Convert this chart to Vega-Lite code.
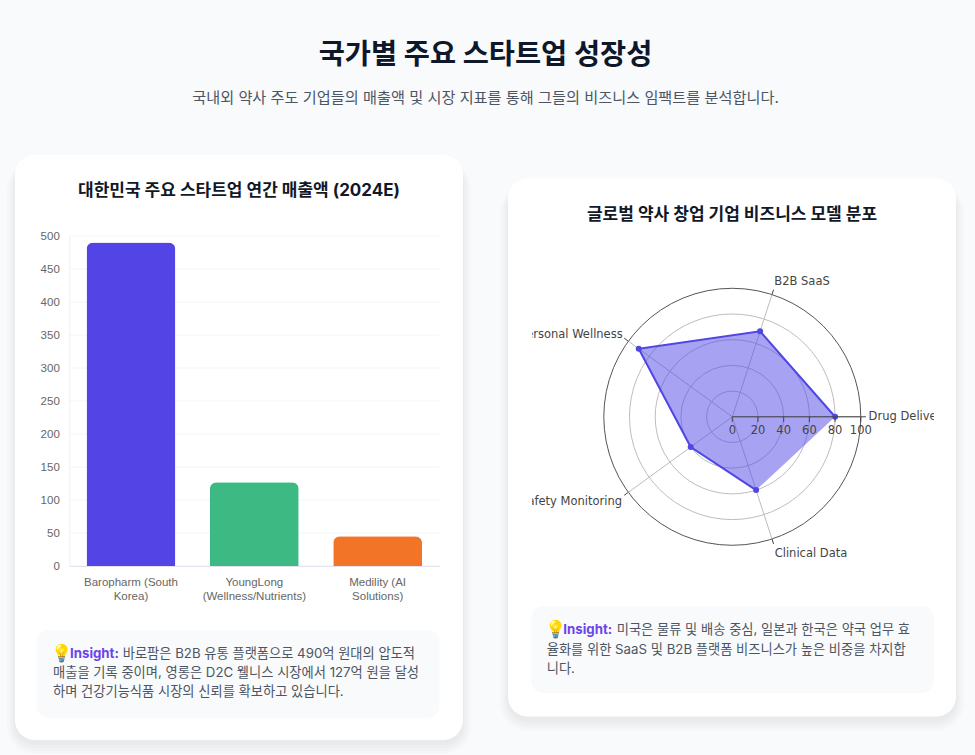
{
  "$schema": "https://vega.github.io/schema/vega-lite/v6.json",
  "background": "#f8fafc",
  "padding": {"left": 7, "top": 41, "right": 19, "bottom": 15},
  "title": {
    "text": "국가별 주요 스타트업 성장성",
    "subtitle": "국내외 약사 주도 기업들의 매출액 및 시장 지표를 통해 그들의 비즈니스 임팩트를 분석합니다.",
    "anchor": "middle",
    "frame": "group",
    "dx": 470.5,
    "font": "Inter, 'Noto Sans CJK KR'",
    "fontSize": 28.4,
    "fontWeight": 700,
    "color": "#0f172a",
    "subtitleFont": "Inter, 'Noto Sans CJK KR'",
    "subtitleFontSize": 15.2,
    "subtitleColor": "#4b5563",
    "subtitlePadding": 20,
    "offset": 48
  },
  "datasets": {
    "one": [{"part": "card"}],
    "revenue": [
      {"company": "Baropharm (South Korea)", "revenue": 490},
      {"company": "YoungLong (Wellness/Nutrients)", "revenue": 127},
      {"company": "Medility (AI Solutions)", "revenue": 45}
    ],
    "revenueTicks": [
      {"tick": 0}, {"tick": 50}, {"tick": 100}, {"tick": 150}, {"tick": 200}, {"tick": 250},
      {"tick": 300}, {"tick": 350}, {"tick": 400}, {"tick": 450}, {"tick": 500}
    ],
    "insightLeft": [
      {"line": 1, "col": 0, "text": "💡", "kind": "icon"},
      {"line": 1, "col": 1, "text": "Insight:", "kind": "head"},
      {"line": 1, "col": 2, "text": "바로팜은 B2B 유통 플랫폼으로 490억 원대의 압도적", "kind": "body"},
      {"line": 2, "col": 0, "text": "매출을 기록 중이며, 영롱은 D2C 웰니스 시장에서 127억 원을 달성", "kind": "body"},
      {"line": 3, "col": 0, "text": "하며 건강기능식품 시장의 신뢰를 확보하고 있습니다.", "kind": "body"}
    ],
    "insightRight": [
      {"line": 1, "col": 0, "text": "💡", "kind": "icon"},
      {"line": 1, "col": 1, "text": "Insight:", "kind": "head"},
      {"line": 1, "col": 2, "text": "미국은 물류 및 배송 중심, 일본과 한국은 약국 업무 효", "kind": "body"},
      {"line": 2, "col": 0, "text": "율화를 위한 SaaS 및 B2B 플랫폼 비즈니스가 높은 비중을 차지합", "kind": "body"},
      {"line": 3, "col": 0, "text": "니다.", "kind": "body"}
    ],
    "rings": [{"r": 20}, {"r": 40}, {"r": 60}, {"r": 80}, {"r": 100}],
    "radar": [
      {"order": 1, "model": "Drug Delivery", "value": 80, "px": 80, "py": 0},
      {"order": 2, "model": "B2B SaaS", "value": 70, "px": 21.63, "py": 66.57},
      {"order": 3, "model": "Personal Wellness", "value": 90, "px": -72.81, "py": 52.9},
      {"order": 4, "model": "Safety Monitoring", "value": 40, "px": -32.36, "py": -23.51},
      {"order": 5, "model": "Clinical Data", "value": 60, "px": 18.54, "py": -57.06}
    ],
    "spokes": [
      {"model": "Drug Delivery", "ex": 100, "ey": 0, "ox": 104, "oy": 0, "lx": 106.1, "ly": 0.2},
      {"model": "B2B SaaS", "ex": 30.9, "ey": 95.1, "ox": 32.1, "oy": 98.9, "lx": 32.7, "ly": 104.5},
      {"model": "Personal Wellness", "ex": -80.9, "ey": 58.8, "ox": -84.1, "oy": 61.1, "lx": -85.3, "ly": 63.5},
      {"model": "Safety Monitoring", "ex": -80.9, "ey": -58.8, "ox": -84.1, "oy": -61.1, "lx": -85.8, "ly": -66.5},
      {"model": "Clinical Data", "ex": 30.9, "ey": -95.1, "ox": 32.1, "oy": -98.9, "lx": 33, "ly": -106.6}
    ],
    "radial": [{"tick": 0}, {"tick": 20}, {"tick": 40}, {"tick": 60}, {"tick": 80}, {"tick": 100}]
  },
  "center": true,
  "bounds": "flush",
  "spacing": 45,
  "hconcat": [
    {
      "width": 448,
      "height": 585,
      "title": {"text": "대한민국 주요 스타트업 연간 매출액 (2024E)", "anchor": "middle", "frame": "group", "font": "Inter, 'Noto Sans CJK KR'", "fontSize": 17, "fontWeight": 700, "color": "#111827", "offset": -45, "zindex": 1},
      "layer": [
        {"data": {"name": "one"}, "mark": {"type": "rect", "color": "#000000", "opacity": 0.015, "cornerRadius": 28},
         "encoding": {
           "x": {"datum": 0, "type": "quantitative", "axis": null, "scale": {"domain": [0, 1], "range": [-8, 456]}}, "x2": {"datum": 1},
           "y": {"datum": 0, "type": "quantitative", "axis": null, "scale": {"domain": [0, 1], "range": [6, 599]}}, "y2": {"datum": 1}}},
        {"data": {"name": "one"}, "mark": {"type": "rect", "color": "#000000", "opacity": 0.015, "cornerRadius": 25},
         "encoding": {
           "x": {"datum": 0, "type": "quantitative", "axis": null, "scale": {"domain": [0, 1], "range": [-5, 453]}}, "x2": {"datum": 1},
           "y": {"datum": 0, "type": "quantitative", "axis": null, "scale": {"domain": [0, 1], "range": [7, 596]}}, "y2": {"datum": 1}}},
        {"data": {"name": "one"}, "mark": {"type": "rect", "color": "#000000", "opacity": 0.015, "cornerRadius": 23},
         "encoding": {
           "x": {"datum": 0, "type": "quantitative", "axis": null, "scale": {"domain": [0, 1], "range": [-3, 451]}}, "x2": {"datum": 1},
           "y": {"datum": 0, "type": "quantitative", "axis": null, "scale": {"domain": [0, 1], "range": [8, 593]}}, "y2": {"datum": 1}}},
        {"data": {"name": "one"}, "mark": {"type": "rect", "color": "#000000", "opacity": 0.015, "cornerRadius": 21},
         "encoding": {
           "x": {"datum": 0, "type": "quantitative", "axis": null, "scale": {"domain": [0, 1], "range": [-1, 449]}}, "x2": {"datum": 1},
           "y": {"datum": 0, "type": "quantitative", "axis": null, "scale": {"domain": [0, 1], "range": [9, 590]}}, "y2": {"datum": 1}}},
        {"data": {"name": "one"}, "mark": {"type": "rect", "color": "#ffffff", "cornerRadius": 20},
         "encoding": {
           "x": {"datum": 0, "type": "quantitative", "axis": null, "scale": {"domain": [0, 1], "range": [0, 448]}}, "x2": {"datum": 1},
           "y": {"datum": 0, "type": "quantitative", "axis": null, "scale": {"domain": [0, 1], "range": [0, 585]}}, "y2": {"datum": 1}}},
        {"data": {"name": "revenueTicks"}, "mark": {"type": "rule", "color": "#f3f4f6", "strokeWidth": 1},
         "encoding": {
           "x": {"datum": 0, "type": "quantitative", "axis": null, "scale": {"domain": [0, 1], "range": [54.3, 424.3]}}, "x2": {"datum": 1},
           "y": {"field": "tick", "type": "quantitative", "axis": null, "scale": {"domain": [0, 500], "range": [411, 81]}}}},
        {"data": {"name": "revenue"}, "mark": {"type": "bar", "cornerRadiusTopLeft": 7, "cornerRadiusTopRight": 7},
         "encoding": {
           "x": {"field": "company", "type": "nominal", "sort": null, "title": null,
             "scale": {"range": [54.3, 424.3], "paddingInner": 0.28, "paddingOuter": 0.14},
             "axis": {"orient": "bottom", "offset": -174, "zindex": 1, "labelAngle": 0, "tickSize": 0, "labelPadding": 10, "domainColor": "#e3e1f0", "grid": false,
               "labelColor": "#666666", "labelFont": "Liberation Sans", "labelFontSize": 11.5, "labelLineHeight": 14,
               "labelExpr": "{'Baropharm (South Korea)': ['Baropharm (South', 'Korea)'], 'YoungLong (Wellness/Nutrients)': ['YoungLong', '(Wellness/Nutrients)'], 'Medility (AI Solutions)': ['Medility (AI', 'Solutions)']}[datum.value]"}},
           "y": {"field": "revenue", "type": "quantitative", "title": null,
             "scale": {"domain": [0, 500], "range": [411, 81]},
             "axis": {"orient": "left", "offset": -54.3, "zindex": 1, "values": [0, 50, 100, 150, 200, 250, 300, 350, 400, 450, 500], "tickSize": 0, "labelPadding": 10, "grid": false, "domainColor": "#f0f0f3",
               "labelColor": "#666666", "labelFont": "Liberation Sans", "labelFontSize": 11.5}},
           "color": {"field": "company", "type": "nominal", "sort": null, "legend": null, "scale": {"range": ["#5345e5", "#3db983", "#f27527"]}}}},
        {"data": {"name": "one"}, "mark": {"type": "rect", "color": "#f9fafb", "cornerRadius": 12},
         "encoding": {
           "x": {"datum": 0, "type": "quantitative", "axis": null, "scale": {"domain": [0, 1], "range": [22, 424.5]}}, "x2": {"datum": 1},
           "y": {"datum": 0, "type": "quantitative", "axis": null, "scale": {"domain": [0, 1], "range": [475, 563]}}, "y2": {"datum": 1}}},
        {"data": {"name": "insightLeft"}, "transform": [{"filter": "datum.kind == 'icon'"}], "mark": {"type": "text", "align": "left", "baseline": "middle", "font": "Inter, 'Noto Sans CJK KR'", "fontSize": 17, "color": "#4b5563"},
         "encoding": {
           "x": {"field": "col", "type": "quantitative", "axis": null, "scale": {"domain": [0, 1, 2], "range": [36, 55, 107.7]}},
           "y": {"field": "line", "type": "quantitative", "axis": null, "scale": {"domain": [1, 3], "range": [499, 537]}},
           "text": {"field": "text", "type": "nominal"}}},
        {"data": {"name": "insightLeft"}, "transform": [{"filter": "datum.kind == 'body'"}], "mark": {"type": "text", "align": "left", "baseline": "middle", "font": "Inter, 'Noto Sans CJK KR'", "fontSize": 13.25, "color": "#4b5563"},
         "encoding": {
           "x": {"field": "col", "type": "quantitative", "axis": null, "scale": {"domain": [0, 1, 2], "range": [38, 55, 107.7]}},
           "y": {"field": "line", "type": "quantitative", "axis": null, "scale": {"domain": [1, 3], "range": [499, 537]}},
           "text": {"field": "text", "type": "nominal"}}},
        {"data": {"name": "insightLeft"}, "transform": [{"filter": "datum.kind == 'head'"}], "mark": {"type": "text", "align": "left", "baseline": "middle", "font": "Inter, 'Noto Sans CJK KR'", "fontSize": 13.25, "fontWeight": 700, "color": "#6a45ea"},
         "encoding": {
           "x": {"field": "col", "type": "quantitative", "axis": null, "scale": {"domain": [0, 1, 2], "range": [38, 55, 107.7]}},
           "y": {"field": "line", "type": "quantitative", "axis": null, "scale": {"domain": [1, 3], "range": [499, 537]}},
           "text": {"field": "text", "type": "nominal"}}}
      ],
      "resolve": {"scale": {"x": "independent", "y": "independent", "color": "independent"}}
    },
    {
      "width": 448,
      "height": 538,
      "title": {"text": "글로벌 약사 창업 기업 비즈니스 모델 분포", "anchor": "middle", "frame": "group", "font": "Inter, 'Noto Sans CJK KR'", "fontSize": 17, "fontWeight": 700, "color": "#111827", "offset": -45, "zindex": 1},
      "layer": [
        {"data": {"name": "one"}, "mark": {"type": "rect", "color": "#000000", "opacity": 0.015, "cornerRadius": 28},
         "encoding": {
           "x": {"datum": 0, "type": "quantitative", "axis": null, "scale": {"domain": [0, 1], "range": [-8, 456]}}, "x2": {"datum": 1},
           "y": {"datum": 0, "type": "quantitative", "axis": null, "scale": {"domain": [0, 1], "range": [6, 552]}}, "y2": {"datum": 1}}},
        {"data": {"name": "one"}, "mark": {"type": "rect", "color": "#000000", "opacity": 0.015, "cornerRadius": 25},
         "encoding": {
           "x": {"datum": 0, "type": "quantitative", "axis": null, "scale": {"domain": [0, 1], "range": [-5, 453]}}, "x2": {"datum": 1},
           "y": {"datum": 0, "type": "quantitative", "axis": null, "scale": {"domain": [0, 1], "range": [7, 549]}}, "y2": {"datum": 1}}},
        {"data": {"name": "one"}, "mark": {"type": "rect", "color": "#000000", "opacity": 0.015, "cornerRadius": 23},
         "encoding": {
           "x": {"datum": 0, "type": "quantitative", "axis": null, "scale": {"domain": [0, 1], "range": [-3, 451]}}, "x2": {"datum": 1},
           "y": {"datum": 0, "type": "quantitative", "axis": null, "scale": {"domain": [0, 1], "range": [8, 546]}}, "y2": {"datum": 1}}},
        {"data": {"name": "one"}, "mark": {"type": "rect", "color": "#000000", "opacity": 0.015, "cornerRadius": 21},
         "encoding": {
           "x": {"datum": 0, "type": "quantitative", "axis": null, "scale": {"domain": [0, 1], "range": [-1, 449]}}, "x2": {"datum": 1},
           "y": {"datum": 0, "type": "quantitative", "axis": null, "scale": {"domain": [0, 1], "range": [9, 543]}}, "y2": {"datum": 1}}},
        {"data": {"name": "one"}, "mark": {"type": "rect", "color": "#ffffff", "cornerRadius": 20},
         "encoding": {
           "x": {"datum": 0, "type": "quantitative", "axis": null, "scale": {"domain": [0, 1], "range": [0, 448]}}, "x2": {"datum": 1},
           "y": {"datum": 0, "type": "quantitative", "axis": null, "scale": {"domain": [0, 1], "range": [0, 538]}}, "y2": {"datum": 1}}},
        {"data": {"name": "rings"}, "mark": {"type": "point", "filled": false, "shape": "circle", "strokeWidth": 1, "opacity": 1},
         "encoding": {
           "x": {"datum": 0, "type": "quantitative", "axis": null, "scale": {"domain": [-174.55, 174.1], "nice": false, "zero": false}},
           "y": {"datum": 0, "type": "quantitative", "axis": null, "scale": {"domain": [-233.2, 185.4], "nice": false, "zero": false}},
           "size": {"field": "r", "type": "quantitative", "legend": null, "scale": {"type": "pow", "exponent": 2, "domain": [0, 100], "range": [0, 66049]}},
           "color": {"condition": {"test": "datum.r == 100", "value": "#555555"}, "value": "#bdbdbd"}}},
        {"data": {"name": "spokes"}, "mark": {"type": "rule", "color": "#bdbdbd", "strokeWidth": 1},
         "encoding": {
           "x": {"field": "ex", "type": "quantitative", "axis": null, "scale": {"domain": [-174.55, 174.1], "nice": false, "zero": false}},
           "y": {"field": "ey", "type": "quantitative", "axis": null, "scale": {"domain": [-233.2, 185.4], "nice": false, "zero": false}},
           "x2": {"datum": 0}, "y2": {"datum": 0}}},
        {"data": {"name": "spokes"}, "mark": {"type": "rule", "color": "#444444", "strokeWidth": 1},
         "encoding": {
           "x": {"field": "ex", "type": "quantitative", "axis": null, "scale": {"domain": [-174.55, 174.1], "nice": false, "zero": false}},
           "y": {"field": "ey", "type": "quantitative", "axis": null, "scale": {"domain": [-233.2, 185.4], "nice": false, "zero": false}},
           "x2": {"field": "ox"}, "y2": {"field": "oy"}}},
        {"data": {"name": "radar"}, "mark": {"type": "line", "fill": "#4f46e5", "fillOpacity": 0.5, "stroke": "#4f46e5", "strokeWidth": 2},
         "encoding": {
           "x": {"field": "px", "type": "quantitative", "axis": null, "scale": {"domain": [-174.55, 174.1], "nice": false, "zero": false}},
           "y": {"field": "py", "type": "quantitative", "axis": null, "scale": {"domain": [-233.2, 185.4], "nice": false, "zero": false}},
           "order": {"field": "order", "type": "quantitative"}}},
        {"data": {"name": "radar"}, "mark": {"type": "point", "filled": true, "color": "#4f46e5", "size": 36, "opacity": 1},
         "encoding": {
           "x": {"field": "px", "type": "quantitative", "axis": null, "scale": {"domain": [-174.55, 174.1], "nice": false, "zero": false}},
           "y": {"field": "py", "type": "quantitative", "axis": null, "scale": {"domain": [-233.2, 185.4], "nice": false, "zero": false}}}},
        {"data": {"name": "radial"}, "mark": {"type": "rule", "color": "#444444", "strokeWidth": 1},
         "encoding": {
           "x": {"field": "tick", "type": "quantitative", "axis": null, "scale": {"domain": [-174.55, 174.1], "nice": false, "zero": false}},
           "y": {"datum": 0, "type": "quantitative", "axis": null, "scale": {"domain": [-233.2, 185.4], "nice": false, "zero": false}},
           "y2": {"datum": -4}}},
        {"data": {"name": "one"}, "mark": {"type": "rule", "color": "#444444", "strokeWidth": 1},
         "encoding": {
           "x": {"datum": 0, "type": "quantitative", "axis": null, "scale": {"domain": [-174.55, 174.1], "nice": false, "zero": false}},
           "x2": {"datum": 100},
           "y": {"datum": 0, "type": "quantitative", "axis": null, "scale": {"domain": [-233.2, 185.4], "nice": false, "zero": false}}}},
        {"data": {"name": "radial"}, "mark": {"type": "text", "align": "center", "baseline": "middle", "font": "DejaVu Sans", "fontSize": 11.5, "color": "#444444"},
         "encoding": {
           "x": {"field": "tick", "type": "quantitative", "axis": null, "scale": {"domain": [-174.55, 174.1], "nice": false, "zero": false}},
           "y": {"datum": -11.3, "type": "quantitative", "axis": null, "scale": {"domain": [-233.2, 185.4], "nice": false, "zero": false}},
           "text": {"field": "tick", "type": "quantitative"}}},
        {"data": {"name": "spokes"}, "transform": [{"filter": "datum.lx > 0"}], "mark": {"type": "text", "align": "left", "baseline": "middle", "font": "DejaVu Sans", "fontSize": 11.5, "color": "#444444"},
         "encoding": {
           "x": {"field": "lx", "type": "quantitative", "axis": null, "scale": {"domain": [-174.55, 174.1], "nice": false, "zero": false}},
           "y": {"field": "ly", "type": "quantitative", "axis": null, "scale": {"domain": [-233.2, 185.4], "nice": false, "zero": false}},
           "text": {"field": "model", "type": "nominal"}}},
        {"data": {"name": "spokes"}, "transform": [{"filter": "datum.lx < 0"}], "mark": {"type": "text", "align": "right", "baseline": "middle", "font": "DejaVu Sans", "fontSize": 11.5, "color": "#444444"},
         "encoding": {
           "x": {"field": "lx", "type": "quantitative", "axis": null, "scale": {"domain": [-174.55, 174.1], "nice": false, "zero": false}},
           "y": {"field": "ly", "type": "quantitative", "axis": null, "scale": {"domain": [-233.2, 185.4], "nice": false, "zero": false}},
           "text": {"field": "model", "type": "nominal"}}},
        {"data": {"name": "one"}, "mark": {"type": "rect", "color": "#ffffff"},
         "encoding": {
           "x": {"datum": -173, "type": "quantitative", "axis": null, "scale": {"domain": [-174.55, 174.1], "nice": false, "zero": false}}, "x2": {"datum": -155.8},
           "y": {"datum": 80, "type": "quantitative", "axis": null, "scale": {"domain": [-233.2, 185.4], "nice": false, "zero": false}}, "y2": {"datum": -80}}},
        {"data": {"name": "one"}, "mark": {"type": "rect", "color": "#ffffff"},
         "encoding": {
           "x": {"datum": 156.9, "type": "quantitative", "axis": null, "scale": {"domain": [-174.55, 174.1], "nice": false, "zero": false}}, "x2": {"datum": 173},
           "y": {"datum": 20, "type": "quantitative", "axis": null, "scale": {"domain": [-233.2, 185.4], "nice": false, "zero": false}}, "y2": {"datum": -20}}},
        {"data": {"name": "one"}, "mark": {"type": "rect", "color": "#f9fafb", "cornerRadius": 12},
         "encoding": {
           "x": {"datum": 0, "type": "quantitative", "axis": null, "scale": {"domain": [0, 1], "range": [23.3, 426]}}, "x2": {"datum": 1},
           "y": {"datum": 0, "type": "quantitative", "axis": null, "scale": {"domain": [0, 1], "range": [427.5, 514.5]}}, "y2": {"datum": 1}}},
        {"data": {"name": "insightRight"}, "transform": [{"filter": "datum.kind == 'icon'"}], "mark": {"type": "text", "align": "left", "baseline": "middle", "font": "Inter, 'Noto Sans CJK KR'", "fontSize": 17, "color": "#4b5563"},
         "encoding": {
           "x": {"field": "col", "type": "quantitative", "axis": null, "scale": {"domain": [0, 1, 2], "range": [36.7, 55.3, 108.7]}},
           "y": {"field": "line", "type": "quantitative", "axis": null, "scale": {"domain": [1, 3], "range": [451.7, 490.3]}},
           "text": {"field": "text", "type": "nominal"}}},
        {"data": {"name": "insightRight"}, "transform": [{"filter": "datum.kind == 'body'"}], "mark": {"type": "text", "align": "left", "baseline": "middle", "font": "Inter, 'Noto Sans CJK KR'", "fontSize": 13.25, "color": "#4b5563"},
         "encoding": {
           "x": {"field": "col", "type": "quantitative", "axis": null, "scale": {"domain": [0, 1, 2], "range": [38.7, 55.3, 108.7]}},
           "y": {"field": "line", "type": "quantitative", "axis": null, "scale": {"domain": [1, 3], "range": [451.7, 490.3]}},
           "text": {"field": "text", "type": "nominal"}}},
        {"data": {"name": "insightRight"}, "transform": [{"filter": "datum.kind == 'head'"}], "mark": {"type": "text", "align": "left", "baseline": "middle", "font": "Inter, 'Noto Sans CJK KR'", "fontSize": 13.25, "fontWeight": 700, "color": "#6a45ea"},
         "encoding": {
           "x": {"field": "col", "type": "quantitative", "axis": null, "scale": {"domain": [0, 1, 2], "range": [38.7, 55.3, 108.7]}},
           "y": {"field": "line", "type": "quantitative", "axis": null, "scale": {"domain": [1, 3], "range": [451.7, 490.3]}},
           "text": {"field": "text", "type": "nominal"}}}
      ],
      "resolve": {"scale": {"x": "independent", "y": "independent", "size": "independent", "color": "independent"}}
    }
  ],
  "config": {"view": {"stroke": null}}
}
